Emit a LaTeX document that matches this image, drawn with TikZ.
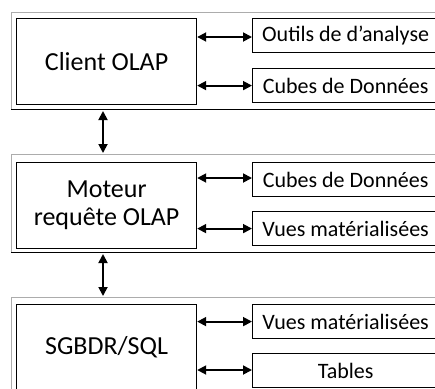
\documentclass[tikz,border=0pt]{standalone}
\usepackage{fontspec}
\setmainfont{Carlito}
\usetikzlibrary{arrows.meta}

\begin{document}
\begin{tikzpicture}[x=1pt,y=-1pt,
	tier/.style={draw=gray!65, line width=1pt},
	main/.style={draw, line width=1.2pt, anchor=north west, inner sep=0pt, minimum width=180pt, minimum height=86pt, align=center, font=\fontsize{26}{28}\selectfont},
	tool/.style={draw, line width=1.2pt, anchor=north west, inner sep=0pt, minimum width=186pt, minimum height=34pt, font=\fontsize{22}{24}\selectfont},
	link/.style={{Triangle[length=9pt,width=9pt]}-{Triangle[length=9pt,width=9pt]}, line width=1.8pt}]
	\path[use as bounding box, clip] (0,0) rectangle (435,388);
	% niveau client
	\draw[tier] (11,109) -- (11,12) -- (450,12);
	\draw[line width=1pt] (11,109) -- (450,109);
	\coordinate (f1) at (103,109);
	\node[main] (c1) at (16,18) {Client OLAP};
	\node[tool] (t11) at (252,18) {Outils de d’analyse};
	\node[tool] (t12) at (252,68) {Cubes de Données};
	\draw[link] (c1.east |- 0,37) -- (t11.west |- 0,37);
	\draw[link] (c1.east |- t12.west) -- (t12.west);
	% niveau serveur
	\draw[tier] (11,252) -- (11,154) -- (450,154);
	\draw[line width=1pt] (11,252) -- (450,252);
	\coordinate (f2a) at (103,154);
	\coordinate (f2b) at (103,252);
	\node[main] (c2) at (16,162) {Moteur\\requête OLAP};
	\node[tool] (t21) at (252,162) {Cubes de Données};
	\node[tool] (t22) at (252,211) {Vues matérialisées};
	\draw[link] (c2.east |- 0,178) -- (t21.west |- 0,178);
	\draw[link] (c2.east |- t22.west) -- (t22.west);
	% niveau stockage
	\draw[tier] (11,400) -- (11,297) -- (450,297);
	\coordinate (f3) at (103,297);
	\node[main] (c3) at (16,304) {SGBDR/SQL};
	\node[tool] (t31) at (252,304) {Vues matérialisées};
	\node[tool] (t32) at (252,353) {Tables};
	\draw[link] (c3.east |- t31.west) -- (t31.west);
	\draw[link] (c3.east |- 0,370) -- (t32.west |- 0,370);
	% liens entre niveaux
	\draw[link, shorten <=2pt, shorten >=1pt] (f1) -- (f2a);
	\draw[link, shorten <=2pt, shorten >=1pt] (f2b) -- (f3);
\end{tikzpicture}
\end{document}
